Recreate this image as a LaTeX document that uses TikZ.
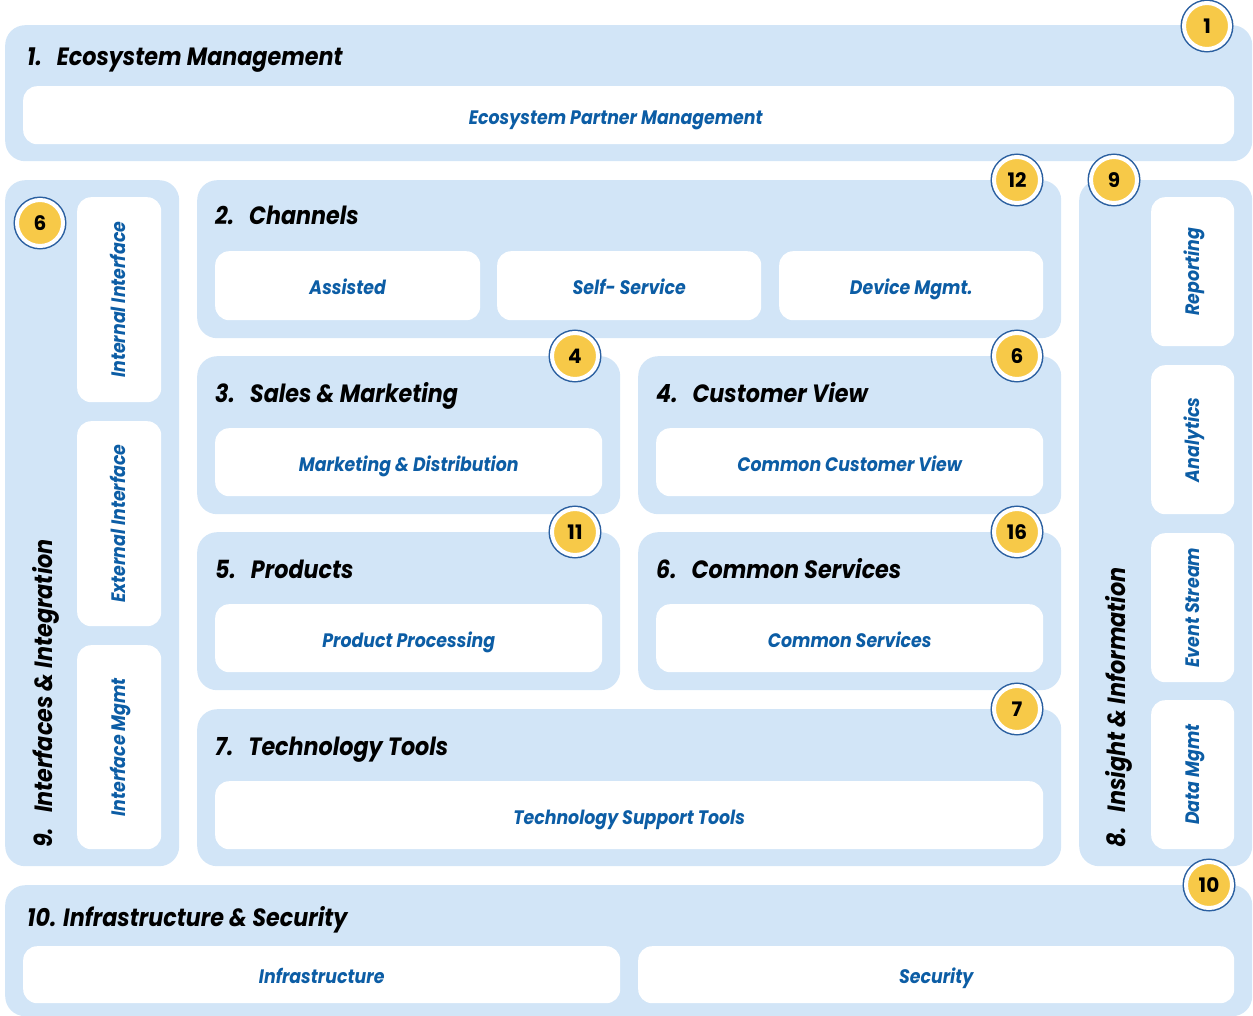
\documentclass[tikz,border=0pt]{standalone}
\usepackage{fontspec}
\setmainfont{Poppins}
\newfontfamily\narrowfam[FakeStretch=0.89]{Poppins}
\usepackage{xcolor}
\usepackage{tikz}
\usetikzlibrary{positioning}
\definecolor{areablue}{HTML}{D2E5F7}
\definecolor{labblue}{HTML}{0C5DA5}
\definecolor{badgeyellow}{HTML}{F7C948}
\definecolor{ringblue}{HTML}{2A5FA0}
\newcommand{\ttlfont}{\narrowfam\fontsize{25}{30}\selectfont\bfseries\itshape}
\newcommand{\labfont}{\narrowfam\fontsize{19.5}{23}\selectfont\bfseries\itshape}

\begin{document}
\begin{tikzpicture}[x=1pt, y=-1pt,
  area/.style={fill=areablue, rounded corners=20pt, inner sep=0pt, anchor=north west},
  cell/.style={fill=white, rounded corners=14pt, inner sep=0pt, anchor=north west, text=labblue,
    font=\labfont, text height=20pt, text depth=2pt},
  vlab/.style={rotate=90, text=labblue, font=\labfont, text height=16pt, text depth=3pt},
  ttl/.style={font=\ttlfont, anchor=base west, inner sep=0pt},
  badge/.style={circle, fill=badgeyellow, draw=white, line width=4pt, minimum size=46pt, inner sep=0pt,
    preaction={draw=ringblue, line width=7pt}, font=\fontsize{20}{22}\selectfont\bfseries}
]
\useasboundingbox (0,0) rectangle (1253,1016);
% light blue areas
\foreach \nm/\x/\y/\w/\h in {eco/5/25/1247/136, intf/5/180/174/686, chan/197/180/864/158,
  sales/197/356/423/158, cust/638/356/423/158, prod/197/532/423/158, serv/638/532/423/158,
  tech/197/709/864/157, ins/1079/180/173/686, infra/5/885/1247/131} {
  \node[area, minimum width=\w pt, minimum height=\h pt] (\nm) at (\x,\y) {};
}
% white cells
\foreach \nm/\x/\y/\w/\h/\txt in {epm/23/86/1211/58/Ecosystem Partner Management\kern26pt,
  asst/215/251/265/69/Assisted, self/497/251/264/69/Self- Service, dev/779/251/264/69/Device Mgmt.,
  mkt/215/428/387/68/Marketing \& Distribution, ccv/656/428/387/68/Common Customer View,
  pp/215/604/387/68/Product Processing, cs/656/604/387/68/Common Services,
  tst/215/781/828/68/Technology Support Tools,
  infc/23/946/597/57/Infrastructure, secu/638/946/596/57/Security} {
  \node[cell, minimum width=\w pt, minimum height=\h pt] (\nm) at (\x,\y) {\txt};
}
% vertical cells
\foreach \nm/\x/\y/\w/\h/\txt in {ii/77/197/84/205/Internal Interface, ei/77/421/84/205/External Interface,
  im/77/645/84/204/Interface Mgmt, rep/1151/197/83/149/Reporting, ana/1151/365/83/149/Analytics,
  evs/1151/533/83/149/Event Stream, dm/1151/700/83/149/Data Mgmt} {
  \node[cell, minimum width=\w pt, minimum height=\h pt] (\nm) at (\x,\y) {};
  \node[vlab] (\nm-t) at (\nm.center) {\txt};
}
% titles
\node[ttl] (eco-t) at (27,66) {1.\hspace{0.6em}Ecosystem Management};
\node[ttl] (chan-t) at (215,225) {2.\hspace{0.6em}Channels};
\node[ttl] (sales-t) at (215,402) {3.\hspace{0.6em}Sales \& Marketing};
\node[ttl] (cust-t) at (656,402) {4.\hspace{0.6em}Customer View};
\node[ttl] (prod-t) at (215,578) {5.\hspace{0.6em}Products};
\node[ttl] (serv-t) at (656,578) {6.\hspace{0.6em}Common Services};
\node[ttl] (tech-t) at (215,755) {7.\hspace{0.6em}Technology Tools};
\node[ttl] (infra-t) at (27,926) {10. Infrastructure \& Security};
\node[ttl, rotate=90] (intf-t) at (52,848) {9.\hspace{0.6em}Interfaces \& Integration};
\node[ttl, rotate=90] (ins-t) at (1125,848) {8.\hspace{0.6em}Insight \& Information};
% number badges
\foreach \nm/\x/\y/\n in {b1/1207/26/1, b6a/40/223/6, b12/1017/180/12, b9/1114/180/9,
  b4/575/356/4, b6b/1017/356/6, b11/575/532/11, b16/1017/532/16, b7/1017/709/7, b10/1209/885/10} {
  \node[badge] (\nm) at (\x,\y) {\n};
}
\end{tikzpicture}
\end{document}
